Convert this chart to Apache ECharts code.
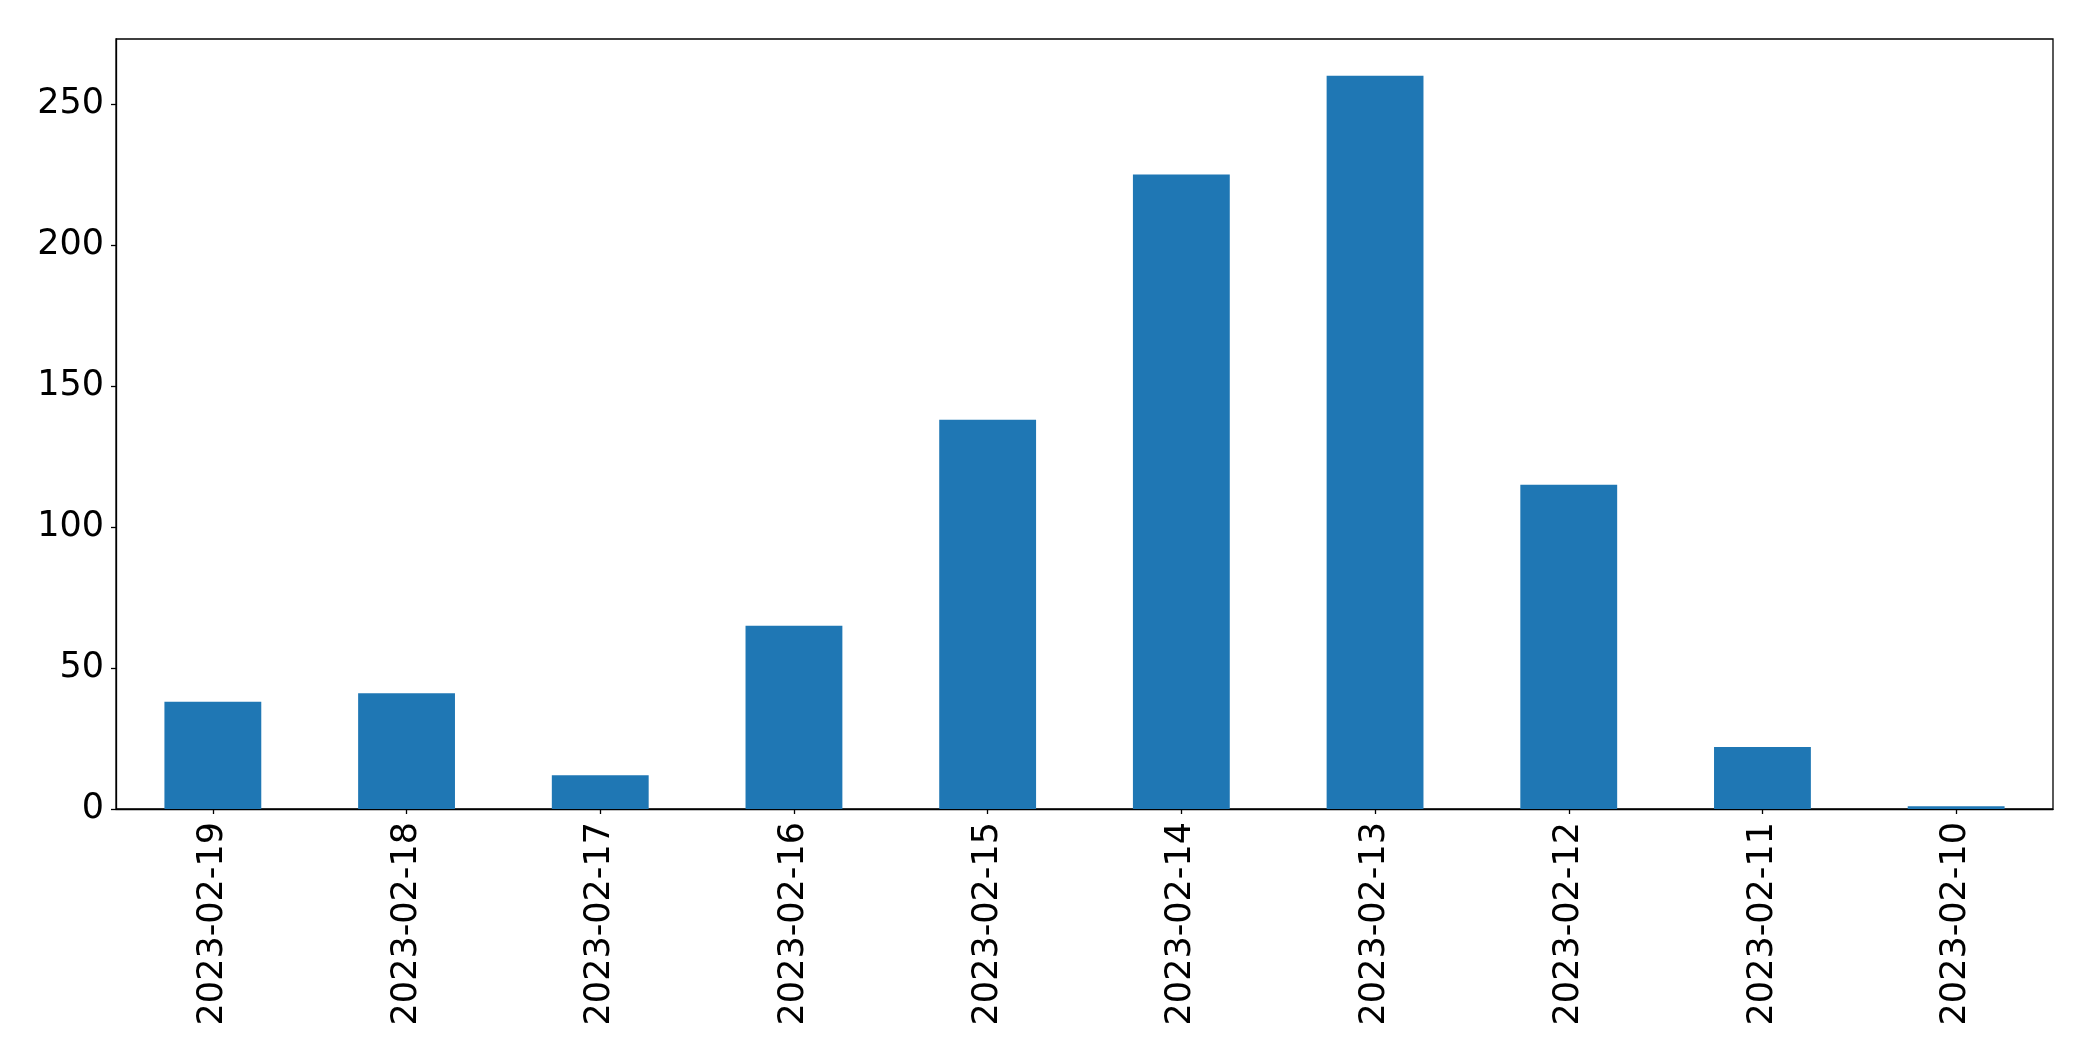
<!DOCTYPE html>
<html>
<head>
<meta charset="utf-8">
<script src="https://cdn.jsdelivr.net/npm/echarts@6/dist/echarts.min.js"></script>
<style>
html,body{margin:0;padding:0;background:#fff;}
#chart{width:2093px;height:1061px;}
</style>
</head>
<body>
<div id="chart"></div>
<script>
const categories = ["2023-02-19","2023-02-18","2023-02-17","2023-02-16","2023-02-15","2023-02-14","2023-02-13","2023-02-12","2023-02-11","2023-02-10"];
const counts = [38, 41, 12, 65, 138, 225, 260, 115, 22, 1];
const yTicks = [0, 50, 100, 150, 200, 250];
const yMax = 273;

const chart = echarts.init(document.getElementById('chart'), null, {renderer: 'canvas'});
const font = 'DejaVu Sans';
chart.setOption({
  animation: false,
  backgroundColor: '#ffffff',
  grid: {left: 116, top: 39, right: 40, bottom: 252, show: true, borderColor: '#000', borderWidth: 1.3, backgroundColor: 'transparent'},
  xAxis: {
    type: 'category',
    data: categories,
    axisLine: {show: true, lineStyle: {color: '#000', width: 1.3}},
    axisTick: {show: true, alignWithLabel: true, length: 5, lineStyle: {color: '#000', width: 1.3}},
    axisLabel: {rotate: 90, margin: 13, color: '#000', fontFamily: font, fontSize: 35, interval: 0}
  },
  yAxis: {
    type: 'value',
    min: 0,
    max: yMax,
    splitLine: {show: false},
    axisLine: {show: true, lineStyle: {color: '#000', width: 1.3}},
    axisTick: {show: true, length: 5, customValues: yTicks, lineStyle: {color: '#000', width: 1.3}},
    axisLabel: {customValues: yTicks, margin: 12, color: '#000', fontFamily: font, fontSize: 35}
  },
  series: [{
    type: 'bar',
    data: counts,
    barWidth: '50%',
    itemStyle: {color: '#1f77b4'}
  }]
});
</script>
</body>
</html>
